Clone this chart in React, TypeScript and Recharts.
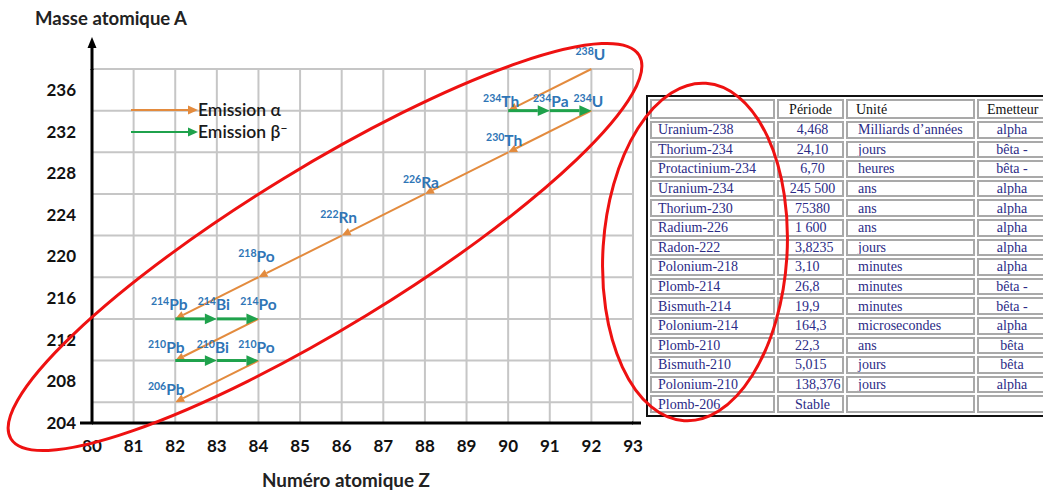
import React from 'react';
import { ScatterChart, Scatter, XAxis, YAxis, CartesianGrid, ReferenceLine } from 'recharts';

// axes
const zTicks = [80, 81, 82, 83, 84, 85, 86, 87, 88, 89, 90, 91, 92, 93];
const aTicks = [204, 208, 212, 216, 220, 224, 228, 232, 236];
const aGrid = [204, 206, 208, 210, 212, 214, 216, 218, 220, 222, 224, 226, 228, 230, 232, 234, 236, 238];

// nuclides of the U-238 chain (Z, A)
const nuclides = [
  { id: 'U238', sym: 'U', z: 92, a: 238 },
  { id: 'Th234', sym: 'Th', z: 90, a: 234 },
  { id: 'Pa234', sym: 'Pa', z: 91, a: 234 },
  { id: 'U234', sym: 'U', z: 92, a: 234 },
  { id: 'Th230', sym: 'Th', z: 90, a: 230 },
  { id: 'Ra226', sym: 'Ra', z: 88, a: 226 },
  { id: 'Rn222', sym: 'Rn', z: 86, a: 222 },
  { id: 'Po218', sym: 'Po', z: 84, a: 218 },
  { id: 'Pb214', sym: 'Pb', z: 82, a: 214 },
  { id: 'Bi214', sym: 'Bi', z: 83, a: 214 },
  { id: 'Po214', sym: 'Po', z: 84, a: 214 },
  { id: 'Pb210', sym: 'Pb', z: 82, a: 210 },
  { id: 'Bi210', sym: 'Bi', z: 83, a: 210 },
  { id: 'Po210', sym: 'Po', z: 84, a: 210 },
  { id: 'Pb206', sym: 'Pb', z: 82, a: 206 },
];

const alphaDecays = [
  ['U238', 'Th234'], ['U234', 'Th230'], ['Th230', 'Ra226'], ['Ra226', 'Rn222'],
  ['Rn222', 'Po218'], ['Po218', 'Pb214'], ['Po214', 'Pb210'], ['Po210', 'Pb206'],
];
const betaDecays = [
  ['Th234', 'Pa234'], ['Pa234', 'U234'], ['Pb214', 'Bi214'], ['Bi214', 'Po214'],
  ['Pb210', 'Bi210'], ['Bi210', 'Po210'],
];

// table
const names = ['Uranium-238', 'Thorium-234', 'Protactinium-234', 'Uranium-234', 'Thorium-230', 'Radium-226', 'Radon-222', 'Polonium-218', 'Plomb-214', 'Bismuth-214', 'Polonium-214', 'Plomb-210', 'Bismuth-210', 'Polonium-210', 'Plomb-206'];
const periods = ['4,468', '24,10', '6,70', '245 500', '75380', '1 600', '3,8235', '3,10', '26,8', '19,9', '164,3', '22,3', '5,015', '138,376', 'Stable'];
const units = ['Milliards d\u2019années', 'jours', 'heures', 'ans', 'ans', 'ans', 'jours', 'minutes', 'minutes', 'minutes', 'microsecondes', 'ans', 'jours', 'jours', ''];
const emitters = ['alpha', 'bêta -', 'bêta -', 'alpha', 'alpha', 'alpha', 'alpha', 'alpha', 'bêta -', 'bêta -', 'alpha', 'bêta', 'bêta', 'alpha', ''];

const ORANGE = '#e38b3e';
const GREEN = '#1fa24c';
const BLUE = '#2e75b6';
const FONT = 'Lato, "Open Sans", sans-serif';

// label nudges (px) relative to the point
const labelShift: Record<string, [number, number]> = {
  U238: [-1, -9], Th234: [-7, -4], Pa234: [1, -4], U234: [-3, -4], Th230: [-4, -6],
  Ra226: [-4, -6], Rn222: [-3, -13], Po218: [-2, -15], Pb214: [-6, -9], Bi214: [-3, -9],
  Po214: [0, -9], Pb210: [-9, -8], Bi210: [-4, -8], Po210: [-2, -8], Pb206: [-9, -7],
};

const byId = (id: string) => nuclides.find((n) => n.id === id)!;

function arrowShape(color: string, width: number, head: number) {
  return (p: any) => {
    const x1 = Number(p.x1), y1 = Number(p.y1), x2 = Number(p.x2), y2 = Number(p.y2);
    const ang = Math.atan2(y2 - y1, x2 - x1);
    const bx = x2 - head * Math.cos(ang);
    const by = y2 - head * Math.sin(ang);
    const half = head * 0.45;
    const px = -Math.sin(ang) * half;
    const py = Math.cos(ang) * half;
    return (
      <g>
        <line x1={x1} y1={y1} x2={bx} y2={by} stroke={color} strokeWidth={width} />
        <polygon points={`${x2},${y2} ${bx + px},${by + py} ${bx - px},${by - py}`} fill={color} />
      </g>
    );
  };
}

const alphaArrow = arrowShape(ORANGE, 2, 9);
const betaArrow = arrowShape(GREEN, 3, 12);

const renderLabel = (p: any) => {
  const n = p.payload;
  const [dx, dy] = labelShift[n.id] || [0, -7];
  return (
    <text x={p.cx + dx} y={p.cy + dy} textAnchor="middle" fill={BLUE} fontFamily={FONT} fontWeight={700}>
      <tspan fontSize={10.5} dy={-5}>{n.a}</tspan>
      <tspan fontSize={15.5} dy={5}>{n.sym}</tspan>
    </text>
  );
};

const cell: React.CSSProperties = {
  border: '2px solid #a9a9a9',
  padding: 0,
  paddingLeft: 6,
  whiteSpace: 'nowrap',
  overflow: 'hidden',
  lineHeight: '13px',
  height: 17.6,
  boxSizing: 'border-box',
};

export default function App() {
  return (
    <div style={{ position: 'absolute', left: 0, top: 0, width: 1043, height: 490, overflow: 'hidden', background: '#fff' }}>
      <table
        style={{
          position: 'absolute', left: 646, top: 95, borderCollapse: 'separate', borderSpacing: 2,
          border: '2px solid #111', tableLayout: 'fixed', width: 405,
          fontFamily: '"Liberation Serif", serif', fontSize: 14, color: '#2b2b86',
        }}
      >
        <tbody>
          <tr style={{ height: 20 }}>
            <td style={{ ...cell, width: 125, height: 20 }} />
            <td style={{ ...cell, width: 67, height: 20, textAlign: 'center', color: '#111', paddingLeft: 0 }}>Période</td>
            <td style={{ ...cell, width: 129, height: 20, color: '#111', paddingLeft: 8 }}>Unité</td>
            <td style={{ ...cell, width: 70, height: 20, color: '#111', paddingLeft: 8 }}>Emetteur</td>
          </tr>
          {names.map((nm, i) => (
            <tr key={nm} style={{ height: 17.6 }}>
              <td style={cell}>{nm}</td>
              <td style={{ ...cell, textAlign: i < 4 ? 'center' : 'left', paddingLeft: i < 4 ? 4 : 16 }}>{periods[i]}</td>
              <td style={{ ...cell, paddingLeft: 10 }}>{units[i]}</td>
              <td style={{ ...cell, textAlign: 'center', paddingLeft: 0 }}>{emitters[i]}</td>
            </tr>
          ))}
        </tbody>
      </table>

      <div style={{ position: 'absolute', left: 0, top: 0 }}>
        <ScatterChart width={650} height={490} margin={{ top: 69, right: 17, bottom: 37, left: 32 }}>
          <CartesianGrid stroke="#c6c6c6" strokeWidth={2} horizontalValues={aGrid} verticalValues={zTicks} />
          <XAxis
            type="number" dataKey="z" domain={[80, 93]} ticks={zTicks} height={30}
            axisLine={{ stroke: '#000', strokeWidth: 3 }} tickLine={false} tickSize={6} tickMargin={11}
            tick={{ fill: '#111', fontSize: 17, fontWeight: 700, fontFamily: FONT }}
          />
          <YAxis
            type="number" dataKey="a" domain={[204, 238]} ticks={aTicks} width={60}
            axisLine={{ stroke: '#000', strokeWidth: 3 }} tickLine={false} tickSize={6} tickMargin={10}
            tick={{ fill: '#111', fontSize: 17, fontWeight: 700, fontFamily: FONT }}
          />
          {alphaDecays.map(([f, t]) => {
            const a = byId(f), b = byId(t);
            return (
              <ReferenceLine key={f + t} segment={[{ x: a.z, y: a.a }, { x: b.z, y: b.a }]} shape={alphaArrow} ifOverflow="visible" />
            );
          })}
          {betaDecays.map(([f, t]) => {
            const a = byId(f), b = byId(t);
            return (
              <ReferenceLine key={f + t} segment={[{ x: a.z, y: a.a }, { x: b.z, y: b.a }]} shape={betaArrow} ifOverflow="visible" />
            );
          })}
          <Scatter data={nuclides} shape={renderLabel} isAnimationActive={false} />
        </ScatterChart>
      </div>

      <svg width={1043} height={490} style={{ position: 'absolute', left: 0, top: 0, pointerEvents: 'none' }}>
        {/* axis extensions */}
        <line x1={92} y1={70} x2={92} y2={46} stroke="#000" strokeWidth={3} />
        <polygon points="92,37 87.5,48 96.5,48" fill="#000" />
        <line x1={80} y1={423} x2={93} y2={423} stroke="#000" strokeWidth={3} />
        <line x1={632} y1={423} x2={641} y2={423} stroke="#000" strokeWidth={3} />
        <text x={35} y={25} fontFamily={FONT} fontWeight={700} fontSize={18.5} fill="#222" textLength={152} lengthAdjust="spacingAndGlyphs">Masse atomique A</text>
        <text x={262} y={487} fontFamily={FONT} fontWeight={700} fontSize={18.5} fill="#222" textLength={168} lengthAdjust="spacingAndGlyphs">Numéro atomique Z</text>

        {/* legend */}
        <line x1={131} y1={110} x2={188} y2={110} stroke={ORANGE} strokeWidth={2} />
        <polygon points="198,110 188,105.5 188,114.5" fill={ORANGE} />
        <text x={198} y={116} fontFamily={FONT} fontWeight={600} fontSize={17.5} fill="#1a1a1a">Emission α</text>
        <line x1={131} y1={132} x2={188} y2={132} stroke={GREEN} strokeWidth={2} />
        <polygon points="198,132 188,127.5 188,136.5" fill={GREEN} />
        <text x={198} y={138} fontFamily={FONT} fontWeight={600} fontSize={17.5} fill="#1a1a1a">
          Emission β<tspan dy={-6} fontSize={12}>−</tspan>
        </text>

        {/* highlight ellipses */}
        <ellipse cx={325} cy={247} rx={368} ry={80} transform="rotate(-31.4 325 247)" fill="none" stroke="#ee1111" strokeWidth={3} />
        <ellipse cx={695} cy={252} rx={92} ry={169} transform="rotate(3.7 695 252)" fill="none" stroke="#ee1111" strokeWidth={3} />
      </svg>
    </div>
  );
}
